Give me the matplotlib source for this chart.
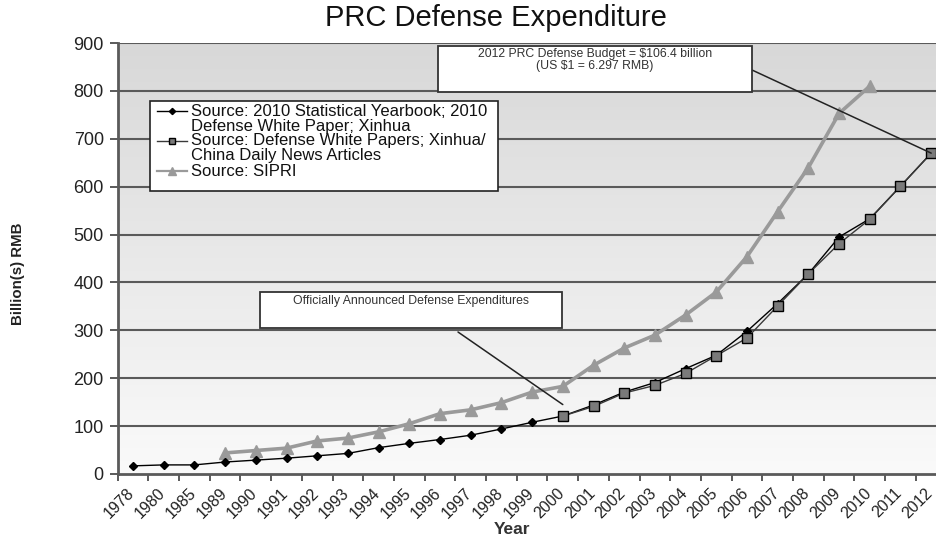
import numpy as np
import matplotlib
matplotlib.use("Agg")
import matplotlib.pyplot as plt
from matplotlib.colors import LinearSegmentedColormap
from matplotlib.patches import Rectangle
from matplotlib.lines import Line2D

plt.rcParams["font.family"] = ["Liberation Sans", "DejaVu Sans"]

# categories on the x axis
years = ["1978", "1980", "1985", "1989", "1990", "1991", "1992", "1993", "1994",
         "1995", "1996", "1997", "1998", "1999", "2000", "2001", "2002", "2003",
         "2004", "2005", "2006", "2007", "2008", "2009", "2010", "2011", "2012"]

# Source: 2010 Statistical Yearbook; 2010 Defense White Paper; Xinhua (1978-2012)
yearbook = [17, 19, 19, 25, 29, 33, 38, 43, 55, 64, 72, 81, 94, 108, 121, 144,
            171, 191, 220, 248, 298, 356, 418, 495, 533, 601, 670]

# Source: Defense White Papers; Xinhua/China Daily (2000-2012)
white_years = years[14:]
white_papers = [121, 141, 169, 185, 210, 247, 284, 351, 418, 481, 532, 601, 670]

# Source: SIPRI (1989-2010)
sipri_years = years[3:25]
sipri = [44, 49, 54, 69, 75, 88, 105, 126, 134, 149, 171, 183, 227, 263, 290,
         332, 380, 454, 548, 640, 753, 810]

legend_labels = [
    ["Source: 2010 Statistical Yearbook; 2010", "Defense White Paper; Xinhua"],
    ["Source: Defense White Papers; Xinhua/", "China Daily News Articles"],
    ["Source: SIPRI"],
]

W, H = 937, 539
fig = plt.figure(figsize=(W / 100, H / 100), dpi=100)


def fx(px):
    return px / W


def fy(py):
    return 1 - py / H


step = 30.7
left = 133 - step / 2
ax = fig.add_axes([fx(left), fy(474), 27 * step / W, (474 - 43) / H])

x_all = np.arange(len(years))
idx = {y: i for i, y in enumerate(years)}

# background gradient
cmap = LinearSegmentedColormap.from_list("bg", ["#fafafa", "#d8d8d8"])
ax.imshow(np.linspace(0, 1, 256).reshape(-1, 1)[::-1], extent=[0, 1, 0, 1],
          transform=ax.transAxes, aspect="auto", cmap=cmap, zorder=0)

ax.set_xlim(-0.5, len(years) - 0.5)
ax.set_ylim(0, 900)

for yv in range(100, 901, 100):
    ax.axhline(yv, color="#5a5a5a", lw=1.5, zorder=1)

styles = [
    dict(color="black", lw=1, marker="D", ms=4.5, mfc="black", mec="black"),
    dict(color="#3a3a3a", lw=1, marker="s", ms=7, mfc="#7a7a7a", mec="black", mew=1),
    dict(color="#9a9a9a", lw=2.6, marker="^", ms=9, mfc="#9a9a9a", mec="#9a9a9a"),
]

ax.plot(x_all, yearbook, zorder=4, **styles[0])
ax.plot([idx[y] for y in white_years], white_papers, zorder=5, **styles[1])
ax.plot([idx[y] for y in sipri_years], sipri, zorder=3, **styles[2])

for s in ["top", "right"]:
    ax.spines[s].set_visible(False)
for s in ["left", "bottom"]:
    ax.spines[s].set_color("#5a5a5a")
    ax.spines[s].set_linewidth(2)
    ax.spines[s].set_zorder(6)

ax.set_yticks(range(0, 901, 100))
ax.tick_params(axis="y", length=6, width=1.4, color="#5a5a5a",
               labelsize=13, labelcolor="#222222", pad=4)
# labels nudged a little left of the category centre so "2012" stays inside
ax.set_xticks(x_all - 0.2)
ax.set_xticklabels(years, rotation=45, ha="right", va="top",
                   rotation_mode="anchor")
ax.set_xticks(np.arange(-0.5, len(years), 1), minor=True)
ax.tick_params(axis="x", which="major", length=0, labelsize=11.5,
               labelcolor="#222222", pad=8)
ax.tick_params(axis="x", which="minor", length=5, width=1.4, color="#5a5a5a")

fig.text(fx(496), fy(18), "PRC Defense Expenditure", fontsize=21,
         ha="center", va="center", color="#111111")
fig.text(fx(512), fy(530), "Year", fontsize=12.5, fontweight="bold",
         ha="center", va="center", color="#333333")
fig.text(fx(18), fy(274), "Billion(s) RMB", fontsize=10.8, fontweight="bold",
         rotation=90, ha="center", va="center", color="#222222")

# legend box drawn by hand so each marker sits on the first line of its label
fig.add_artist(Rectangle((fx(150), fy(191)), fx(498) - fx(150), fy(101) - fy(191),
                         transform=fig.transFigure, facecolor="white",
                         edgecolor="#222222", lw=1.2, zorder=7))
row = 0
for lines, st in zip(legend_labels, styles):
    ypx = 111 + 15 * row
    fig.add_artist(Line2D([fx(157), fx(187)], [fy(ypx), fy(ypx)],
                          transform=fig.transFigure, zorder=8,
                          color=st["color"], lw=min(st["lw"], 1.6)))
    mk = {k: v for k, v in st.items() if k not in ("color", "lw")}
    mk["ms"] = mk["ms"] * 0.7
    fig.add_artist(Line2D([fx(172)], [fy(ypx)], transform=fig.transFigure,
                          ls="none", zorder=9, **mk))
    for line in lines:
        fig.text(fx(191), fy(15 * row + 111), line, fontsize=12, ha="left",
                 va="center", color="#111111", zorder=9)
        row += 1

# callout boxes
fig.add_artist(Rectangle((fx(438), fy(92)), fx(752) - fx(438), fy(46) - fy(92),
                         transform=fig.transFigure, facecolor="white",
                         edgecolor="#333333", lw=1.3, zorder=8))
fig.text(fx(595), fy(48), "2012 PRC Defense Budget = $106.4 billion\n(US $1 = 6.297 RMB)",
         fontsize=8.8, ha="center", va="top", color="#333333",
         linespacing=1.0, zorder=9)
ax.annotate("", xy=(idx["2012"], 670), xycoords="data",
            xytext=(fx(752), fy(70)), textcoords="figure fraction",
            arrowprops=dict(arrowstyle="-", color="#222222", lw=1.1,
                            shrinkA=0, shrinkB=0), zorder=8)

fig.add_artist(Rectangle((fx(260), fy(328)), fx(562) - fx(260), fy(292) - fy(328),
                         transform=fig.transFigure, facecolor="white",
                         edgecolor="#333333", lw=1.3, zorder=8))
fig.text(fx(411), fy(295), "Officially Announced Defense Expenditures",
         fontsize=8.8, ha="center", va="top", color="#333333", zorder=9)
ax.annotate("", xy=(idx["2000"], 145), xycoords="data",
            xytext=(fx(458), fy(332)), textcoords="figure fraction",
            arrowprops=dict(arrowstyle="-", color="#222222", lw=1.1,
                            shrinkA=0, shrinkB=0), zorder=8)

fig.savefig("out.png", dpi=100)
